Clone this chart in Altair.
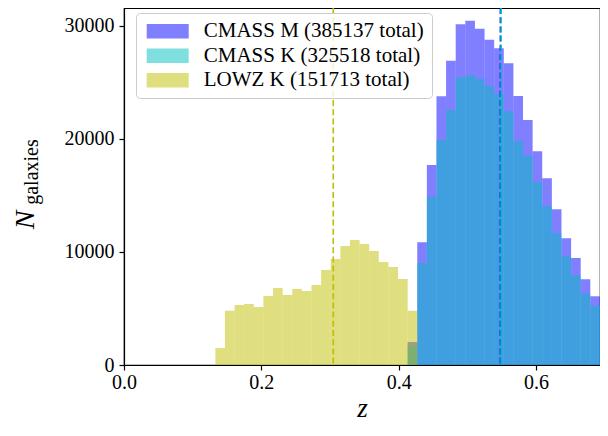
import altair as alt
import pandas as pd

# ---- data ----
BIN_START = 0.133
BIN_WIDTH = 0.014

SAMPLES = ["CMASS M (385137 total)", "CMASS K (325518 total)", "LOWZ K (151713 total)"]
COLORS = ["#0000ff", "#00bfbf", "#bfbf00"]

CMASS_M_FIRST_BIN = 20
CMASS_M = [2030, 10860, 17700, 23780, 26930, 30150, 30470, 29760, 28790, 28030,
           26700, 23800, 21680, 18910, 16520, 13780, 11210, 9470, 7580, 6080]

CMASS_K_FIRST_BIN = 20
CMASS_K = [1680, 9030, 14890, 19910, 22570, 25430, 25640, 25340, 24690, 23950,
           22450, 19820, 18500, 16170, 14040, 11650, 9590, 7910, 6310, 5250]

LOWZ_K_FIRST_BIN = 0
LOWZ_K = [1500, 4800, 5310, 5400, 5130, 6110, 6810, 6200, 6730, 6550, 7080,
          8410, 9380, 10530, 11060, 10710, 10090, 9120, 8670, 7610, 4800]

MEAN_Z = [0.5481, 0.5490, 0.3047]

X_TICKS = [0.0, 0.2, 0.4, 0.6]
Y_TICKS = [0, 10000, 20000, 30000]
X_MAX = 0.6931
Y_MAX = 31590

FONT = "Liberation Serif"

rows = []
for name, first, counts in zip(SAMPLES, [CMASS_M_FIRST_BIN, CMASS_K_FIRST_BIN, LOWZ_K_FIRST_BIN],
                               [CMASS_M, CMASS_K, LOWZ_K]):
    for i, c in enumerate(counts):
        k = first + i
        rows.append({"sample": name,
                     "z0": BIN_START + k * BIN_WIDTH,
                     "z1": BIN_START + (k + 1) * BIN_WIDTH,
                     "n": c})
hist = pd.DataFrame(rows)
means = pd.DataFrame({"sample": SAMPLES, "z": MEAN_Z})

xscale = alt.Scale(domain=[0, X_MAX], nice=False, zero=False)
yscale = alt.Scale(domain=[0, Y_MAX], nice=False)
cscale = alt.Scale(domain=SAMPLES, range=COLORS)

bars = alt.Chart(hist).mark_rect(opacity=0.5, strokeWidth=0).encode(
    x=alt.X("z0:Q", scale=xscale,
            axis=alt.Axis(values=X_TICKS, format=".1f", title="z", grid=False,
                          labelFlush=False)),
    x2="z1:Q",
    y=alt.Y("n:Q", scale=yscale,
            axis=alt.Axis(values=Y_TICKS, format="d", title=None, grid=False,
                          labelFlush=False)),
    y2=alt.datum(0),
    color=alt.Color("sample:N", scale=cscale, sort=SAMPLES,
                    legend=alt.Legend(
                        title=None, orient="none", legendX=12, legendY=5,
                        padding=7.7, symbolType="M-1,-0.96H4.6V0.96H-1Z",
                        symbolSize=225, symbolStrokeWidth=0, symbolOpacity=0.5,
                        labelOffset=39, labelFont=FONT, labelFontSize=21,
                        labelLimit=500, rowPadding=2.5,
                        fillColor="rgba(255,255,255,0.8)", strokeColor="#cccccc",
                        cornerRadius=4)),
)

rule_m = alt.Chart(means).transform_filter(
    alt.datum.sample == SAMPLES[0]
).mark_rule(strokeDash=[6, 3.2], strokeWidth=1.6).encode(
    x=alt.X("z:Q", scale=xscale),
    color=alt.Color("sample:N", scale=cscale, legend=None),
)
rule_rest = alt.Chart(means).transform_filter(
    alt.datum.sample != SAMPLES[0]
).mark_rule(strokeDash=[6, 3.2], strokeWidth=1.6).encode(
    x=alt.X("z:Q", scale=xscale),
    color=alt.Color("sample:N", scale=cscale, legend=None),
)

label_df = pd.DataFrame({"t": [""]})
n_label = alt.Chart(label_df).mark_text(
    text="N", font=FONT, fontSize=28, fontStyle="italic", angle=270,
    align="center", baseline="middle", color="black"
).encode(x=alt.value(-98), y=alt.value(212))
g_label = alt.Chart(label_df).mark_text(
    text="galaxies", font=FONT, fontSize=20, angle=270,
    align="center", baseline="middle", color="black"
).encode(x=alt.value(-92), y=alt.value(164))

chart = alt.layer(bars, rule_m, rule_rest, n_label, g_label).properties(
    width=476, height=357,
    autosize=alt.AutoSizeParams(type="none"),
    padding={"left": 116, "top": 0, "right": 0, "bottom": 58},
).configure_view(
    stroke="black", strokeWidth=1.2
).configure_axis(
    domainColor="black", domainWidth=1.2, tickColor="black", tickSize=5,
    tickWidth=1.2, labelFont=FONT, labelFontSize=20, labelColor="black",
    titleFont=FONT, titleColor="black"
).configure_axisX(
    labelPadding=2, titleFontSize=27, titleFontStyle="italic",
    titleFontWeight="normal", titlePadding=3
).configure_axisY(
    labelPadding=5
)

chart.save("out.html", embed_options={"renderer": "svg", "actions": False})
